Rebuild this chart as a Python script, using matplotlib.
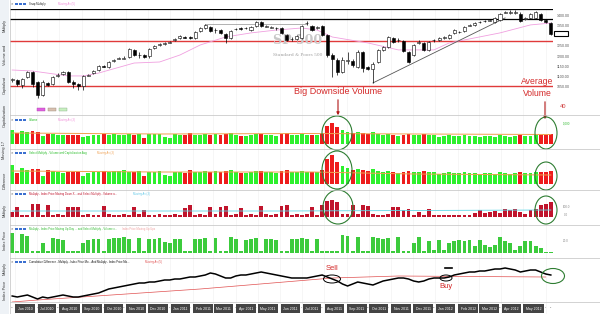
import matplotlib
matplotlib.use('Agg')
import matplotlib.pyplot as plt
from matplotlib.patches import Ellipse, Rectangle, FancyArrowPatch
import pandas as pd

plt.rcParams['font.family'] = ['Liberation Sans', 'DejaVu Sans']

# weekly S&P 500 bars, late May 2010 to mid 2012
weeks = pd.date_range('2010-05-28', periods=107, freq='W-FRI')

opens = [1083, 1083, 1059, 1098, 1122, 1073, 1010, 1069, 1064, 1105,
         1112, 1122, 1073, 1064, 1054, 1105, 1117, 1132, 1151, 1147,
         1176, 1188, 1188, 1195, 1230, 1203, 1205, 1200, 1239, 1256,
         1259, 1266, 1278, 1288, 1293, 1293, 1288, 1322, 1337, 1342,
         1325, 1327, 1308, 1288, 1330, 1337, 1335, 1327, 1347, 1366,
         1344, 1339, 1335, 1337, 1303, 1281, 1283, 1288, 1359, 1347,
         1339, 1347, 1303, 1205, 1181, 1122, 1178, 1176, 1147, 1220,
         1147, 1137, 1171, 1230, 1244, 1288, 1276, 1273, 1220, 1205,
         1266, 1264, 1230, 1276, 1278, 1288, 1288, 1313, 1315, 1322,
         1349, 1352, 1364, 1369, 1373, 1366, 1376, 1412, 1412, 1412,
         1405, 1383, 1386, 1386, 1405, 1376, 1361]
closes = [1086, 1064, 1088, 1122, 1064, 1010, 1073, 1059, 1098, 1108,
          1122, 1073, 1064, 1054, 1103, 1108, 1127, 1151, 1149, 1171,
          1181, 1191, 1191, 1234, 1205, 1205, 1195, 1234, 1249, 1259,
          1264, 1269, 1283, 1298, 1290, 1288, 1317, 1337, 1352, 1322,
          1327, 1313, 1288, 1322, 1332, 1332, 1337, 1342, 1366, 1347,
          1347, 1342, 1337, 1313, 1278, 1283, 1298, 1347, 1361, 1327,
          1342, 1303, 1205, 1186, 1122, 1181, 1181, 1156, 1220, 1142,
          1137, 1161, 1230, 1244, 1293, 1269, 1278, 1225, 1171, 1254,
          1269, 1230, 1269, 1278, 1288, 1293, 1303, 1327, 1317, 1342,
          1352, 1361, 1366, 1371, 1376, 1386, 1405, 1415, 1415, 1415,
          1371, 1386, 1405, 1415, 1376, 1366, 1308]
highs = [1093, 1088, 1093, 1127, 1127, 1078, 1083, 1073, 1103, 1117,
         1127, 1127, 1083, 1069, 1108, 1112, 1132, 1156, 1156, 1176,
         1186, 1195, 1200, 1239, 1234, 1220, 1210, 1239, 1254, 1264,
         1269, 1273, 1288, 1303, 1298, 1298, 1322, 1342, 1356, 1347,
         1337, 1332, 1313, 1327, 1337, 1342, 1342, 1347, 1371, 1371,
         1352, 1347, 1342, 1342, 1308, 1293, 1303, 1352, 1371, 1352,
         1347, 1352, 1308, 1215, 1191, 1195, 1220, 1186, 1230, 1225,
         1151, 1171, 1234, 1249, 1298, 1293, 1288, 1278, 1225, 1259,
         1278, 1269, 1273, 1283, 1293, 1298, 1308, 1332, 1322, 1347,
         1356, 1366, 1371, 1376, 1381, 1391, 1410, 1420, 1425, 1425,
         1415, 1391, 1410, 1420, 1410, 1381, 1366]
lows = [1073, 1054, 1044, 1093, 1049, 995, 1005, 1054, 1059, 1098,
        1108, 1069, 1044, 1034, 1034, 1103, 1112, 1127, 1147, 1142,
        1171, 1186, 1186, 1191, 1200, 1191, 1191, 1191, 1234, 1249,
        1254, 1264, 1273, 1283, 1288, 1283, 1283, 1317, 1332, 1317,
        1313, 1308, 1264, 1283, 1327, 1327, 1332, 1322, 1342, 1342,
        1342, 1337, 1327, 1308, 1273, 1273, 1278, 1283, 1352, 1322,
        1332, 1298, 1195, 1098, 1108, 1117, 1161, 1147, 1142, 1122,
        1132, 1069, 1166, 1225, 1239, 1264, 1269, 1220, 1166, 1200,
        1259, 1225, 1225, 1269, 1273, 1283, 1283, 1308, 1313, 1317,
        1347, 1347, 1361, 1366, 1371, 1361, 1371, 1410, 1405, 1405,
        1366, 1376, 1381, 1381, 1371, 1361, 1303]

# 20 week moving average of the index (read at a few weeks)
ma_week = [0, 4, 11, 14, 17, 24, 29, 33, 37, 42, 47, 52, 57, 60, 63, 70, 76, 83, 86, 96, 102, 106]
ma_price = [1132, 1127, 1103, 1103, 1117, 1166, 1171, 1205, 1254, 1293, 1313, 1327,
            1337, 1327, 1293, 1264, 1230, 1230, 1264, 1313, 1352, 1361]

trend_week = [71, 97]
trend_price = [1069, 1386]
resist_week = [38, 58]
resist_price = [1354, 1354]
hlines_black = [1430, 1381]
hlines_red = [1273, 1054]

# volume (billions of shares)
volume = [14, 11, 13, 12, 13, 12, 8, 10, 10, 9, 9, 9, 9, 9, 7, 8, 9, 9, 10, 9,
          10, 9, 9, 10, 9, 10, 6, 10, 10, 10, 7, 6, 10, 9, 9, 11, 9,
          9, 10, 9, 10, 9, 10, 11, 9, 8, 8, 9, 10, 10, 9, 9, 8, 10, 11, 9, 9, 10, 9, 9, 9, 11,
          18, 21, 17, 14, 12, 11, 12, 11,
          10, 12, 10, 9, 10, 9, 8, 9, 10, 9, 9, 10, 9, 9, 7, 8, 9, 8, 8, 9, 8, 8, 7, 8, 8, 7,
          9, 8, 7, 8, 9, 8, 8, 9, 9, 9, 10]
vol_ma_week = [0, 29, 59, 79, 106]
vol_ma = [11, 10, 10.5, 10, 9.5]

volcap = [19, 11, 16, 14, 15, 15, 8, 14, 13, 12, 11, 12, 12, 12, 8, 11, 12, 12, 13, 12,
          13, 13, 14, 12, 12, 13, 8, 12, 12, 13, 9, 8, 12, 12, 11, 14, 12,
          12, 13, 12, 13, 12, 13, 14, 12, 11, 11, 12, 13, 13, 12, 12, 11, 13, 14, 12, 12, 13, 12, 12, 12, 14,
          25, 29, 22, 18, 16, 14, 15, 14,
          13, 15, 13, 12, 13, 12, 11, 12, 13, 12, 12, 13, 12, 12, 10, 11, 12, 11, 11, 12, 11, 11, 10, 11, 11, 10,
          12, 11, 10, 11, 12, 11, 11, 12, 12, 12, 13]
volcap_ma_week = [0, 29, 59, 79, 106]
volcap_ma = [13, 12, 12, 10, 9]

down_vol = [5, 10, 2.5, 2.5, 13, 13, 2.5, 12, 2.5, 3, 2.5, 10, 10, 10, 2.5, 3, 2.5, 2.5, 11, 3,
            2.5, 2.5, 3, 2.5, 10, 3, 7, 2.5, 2.5, 3, 2.5, 2.5, 3, 2.5, 9, 12, 2.5, 3, 2.5, 10,
            3, 10, 11, 2.5, 3, 9, 2.5, 3, 2.5, 11, 3, 2.5, 3, 11, 12, 2.5, 3, 2.5, 3, 10,
            2.5, 12, 16, 17, 15, 3, 3, 12, 3, 12, 11, 3, 2.5, 2.5, 3, 10,
            10, 7, 8, 2.5, 5, 2.5, 8, 2.5, 2.5, 2.5, 2.5, 2.5, 2.5, 2.5, 2.5, 4,
            7, 4, 5, 6, 4, 8, 7, 8, 5, 3, 7, 8, 12, 13, 15]
down_ma_week = [0, 53, 106]
down_ma = [6, 6, 7]

up_vol = [20, 2, 19, 17, 2, 2, 10, 2, 15, 14, 13, 2, 2, 2, 10, 13, 14, 14, 2, 14,
          15, 15, 16, 14, 2, 15, 2, 14, 14, 15, 11, 10, 14, 14, 2, 2, 14, 14, 15, 2,
          15, 2, 2, 16, 14, 2, 13, 14, 15, 2, 14, 14, 13, 2, 2, 14, 14, 15, 14, 2,
          14, 2, 2, 2, 2, 18, 17, 2, 16, 2, 2, 16, 15, 14, 15, 2,
          16, 2, 2, 10, 16, 2, 12, 3, 13, 3, 10, 12, 13, 12, 13, 7, 13, 8, 6, 8,
          16, 12, 10, 3, 7, 12, 12, 7, 5, 1, 1]

cum_diff = [40, 30, 40, 50, 30, 10, 30, 20, 30, 40, 50, 40, 30, 30, 40, 50, 60, 70, 90, 110,
            120, 130, 140, 150, 160, 170, 170, 180, 180, 190, 200, 200, 210, 210, 220, 230, 230, 240, 250, 270,
            260, 240, 220, 220, 240, 250, 250, 260, 270, 280, 270, 260, 250, 240, 230, 220, 220, 220, 220, 230,
            240, 250, 230, 210, 190, 160, 140, 160, 180, 170, 160, 150, 170, 190, 200, 210, 220, 220, 210, 190,
            180, 190, 210, 220, 220, 220, 230, 250, 260, 270, 280, 280, 290, 290, 300, 310, 310, 320, 310, 300,
            280, 290, 300, 300, 280, 260, 250]
cum_ma_week = [0, 5, 37, 63, 76, 105]
cum_ma = [-20, 0, 110, 220, 240, 230]

price_ticks = [1050, 1100, 1150, 1200, 1250, 1300, 1350, 1400]

GREEN = '#2df02d'
RED = '#ee1c1c'
DARKRED = '#c0142c'
GREEN2 = '#3ccb3c'

fig = plt.figure(figsize=(6, 3.14), dpi=100)
fig.patch.set_facecolor('white')


def panel(top, bottom, left=10, right=553):
    a = fig.add_axes([left / 600, 1 - bottom / 314, (right - left) / 600, (bottom - top) / 314])
    a.set_xlim(weeks[0] - pd.Timedelta(days=3), weeks[-1] + pd.Timedelta(days=3))
    a.set_xticks([])
    a.set_yticks([])
    for s in a.spines.values():
        s.set_visible(False)
    for d in pd.date_range('2010-06-01', '2012-06-01', freq='MS'):
        a.axvline(d, color='#efefef', lw=0.4, zorder=0)
    return a


up = [c >= o for o, c in zip(opens, closes)]
colors = [GREEN if u else RED for u in up]

# price panel
ax = panel(9, 115)
ax.set_ylim(912.4, 1429.6)
for y in hlines_black:
    ax.axhline(y, color='black', lw=0.9, zorder=1)
for y in hlines_red:
    ax.axhline(y, color='#e03a3a', lw=1.0, zorder=1)
ax.plot([weeks[i] for i in ma_week], ma_price, color='#f0a0e0', lw=0.6, zorder=2)
ax.plot([weeks[i] for i in trend_week], trend_price, color='#555555', lw=0.6, zorder=2)
ax.plot([weeks[i] for i in resist_week], resist_price, color='#777777', lw=0.4, zorder=2)
ax.vlines(weeks, lows, highs, color='black', lw=0.5, zorder=3)
body_lo = [min(o, c) for o, c in zip(opens, closes)]
body_h = [max(abs(c - o), 0.8) for o, c in zip(opens, closes)]
ax.bar(weeks, body_h, bottom=body_lo, width=4.2,
       color=['white' if u else 'black' for u in up], edgecolor='black', lw=0.4, zorder=4)
ax.text(0.53, 0.70, 'SP 500', transform=ax.transAxes, ha='center', va='center',
        fontsize=9, color='#c8c8c8', fontweight='bold', family='DejaVu Serif', zorder=1)
ax.text(0.53, 0.57, 'Standard & Poors 500', transform=ax.transAxes, ha='center', va='center',
        fontsize=3.2, color='#a0a0a0', family='DejaVu Serif', zorder=1)
ax.yaxis.tick_right()
ax.set_yticks(price_ticks)
ax.set_yticklabels(['%.2f' % t for t in price_ticks])
ax.tick_params(axis='y', length=0, labelsize=2.6, labelcolor='#555555', pad=3)

# volume panel
ax2 = panel(115, 149)
ax2.set_ylim(-5, 29)
ax2.bar(weeks, volume, width=5.3, color=colors, zorder=2)
ax2.plot([weeks[i] for i in vol_ma_week], vol_ma, color='#f0a050', lw=0.7, zorder=3)

# volume and capitalization panel
ax3 = panel(149, 190)
ax3.set_ylim(-6, 35)
ax3.bar(weeks, volcap, width=5.3, color=colors, zorder=2)
ax3.plot([weeks[i] for i in volcap_ma_week], volcap_ma, color='#f0a050', lw=0.7, zorder=3)

# down volume panel
ax4 = panel(190, 225)
ax4.set_ylim(-8, 27)
ax4.bar(weeks, down_vol, width=5.3, color=DARKRED, zorder=2)
ax4.plot([weeks[i] for i in down_ma_week], down_ma, color='#60d8e8', lw=0.6, zorder=3)

# up volume panel
ax5 = panel(225, 258)
ax5.set_ylim(-5, 28)
ax5.bar(weeks, up_vol, width=5.3, color=GREEN2, zorder=2)

# cumulative difference panel
ax6 = panel(258, 302)
ax6.set_ylim(-20, 420)
ax6.plot(weeks, cum_diff, color='black', lw=1.1, zorder=3)
ax6.plot([weeks[i] for i in cum_ma_week], cum_ma, color='#e05050', lw=0.5, zorder=2)

# date axis
axd = panel(302, 314)
axd.set_ylim(0, 1)
for w in weeks:
    axd.text(w, 0.5, str(w.day), ha='center', va='center', fontsize=1.6, color='#666666')
for m in pd.date_range('2010-06-01', '2012-05-01', freq='MS') + pd.Timedelta(days=14):
    axd.text(m, 0.45, m.strftime('%b %Y'), ha='center', va='center', fontsize=2.5, color='white',
             bbox=dict(boxstyle='square,pad=0.7', fc='#444444', ec='none'), zorder=5)

# overlay in pixel space for annotations and chrome
ov = fig.add_axes([0, 0, 1, 1])
ov.set_xlim(0, 600)
ov.set_ylim(314, 0)
ov.axis('off')
ov.patch.set_alpha(0)

for y in [115, 149, 190, 225, 258, 302]:
    ov.plot([10, 600], [y, y], color='#c0c0c0', lw=0.5)
ov.plot([10, 10], [0, 314], color='#c0c0c0', lw=0.5)
ov.add_patch(Rectangle((0, 0), 9, 314, fc='#eef2f6', ec='none'))

left_tabs = [(25, 'Multiply'), (55, 'Volume and'), (85, 'Capitalizat'),
             (115, 'Capitalization'), (150, 'Moving 17'), (180, 'Difference'),
             (210, 'Multiply'), (240, 'Index Price'), (268, 'Multiply'),
             (290, 'Index Price')]
for y, t in left_tabs:
    ov.text(4.5, y, t, rotation=90, ha='center', va='center', fontsize=2.8, color='#333333')

# panel headers: (y, main text, colour, x of second text, second text, colour)
headers = [
    (4, 'Snap Multiply', '#222222', 58, 'Moving Av (5)', '#f08ad8'),
    (120, 'Volume', '#22bb22', 58, 'Moving Av (3)', '#f08ad8'),
    (153, 'Select Multiply - Volume and Capitalization Avg', '#22bb22', 97, 'Moving Av (3)', '#f0a050'),
    (194, 'Multiply - Index Price Moving Down X... and Select Multiply - Volume a...', '#c0142c',
     133, 'Moving Av (3)', '#60c8e8'),
    (229, 'Multiply - Index Price Moving Up Day ... and Select Multiply - Volume x...', '#33bb33',
     122, 'Index Price Moving Up Ups', '#f0a0a0'),
    (262, 'Cumulative Difference - Multiply - Index Price Mo... And Multiply - Index Price Mo...', '#111111',
     145, 'Moving Av (5)', '#e05050'),
]
for y, t1, c1, x2, t2, c2 in headers:
    ov.text(11, y, '\u2715', fontsize=2.2, color='#555555', va='center')
    for k in range(3):
        ov.add_patch(Rectangle((15 + k * 4, y - 1.2), 2.6, 2.4, fc='#3a6fd0', ec='none'))
    ov.text(29, y, t1, fontsize=2.0, color=c1, va='center')
    ov.text(x2, y, t2, fontsize=2.0, color=c2, va='center')

ov.add_patch(Rectangle((37, 108), 8, 3, fc='#e060e0', ec='#aa44aa', lw=0.3))
ov.add_patch(Rectangle((48, 108), 8, 3, fc='#d8c0b0', ec='#998877', lw=0.3))
ov.add_patch(Rectangle((59, 108), 8, 3, fc='#c8f0c0', ec='#88aa88', lw=0.3))
ov.add_patch(Rectangle((554, 31), 14, 5, fc='white', ec='black', lw=0.8))

for x, y, t, c in [(566, 124, '1,000', '#33bb33'), (566, 207, '100.0', '#888888'),
                   (566, 215, '0.0', '#888888'), (566, 241, '20.0', '#888888')]:
    ov.text(x, y, t, fontsize=2.2, color=c, ha='center', va='center')

# annotations
ov.text(338, 91, 'Big Downside Volume', color='#d42a2a', fontsize=6.5, ha='center', va='center')
ov.add_patch(FancyArrowPatch((338, 97), (338, 118), arrowstyle='-|>', mutation_scale=4,
                             color='#b01818', lw=0.8))
ov.text(537, 81, 'Average', color='#d42a2a', fontsize=6.2, ha='center', va='center')
ov.text(537, 93, 'Volume', color='#d42a2a', fontsize=6.2, ha='center', va='center')
ov.add_patch(FancyArrowPatch((545, 99), (545, 122), arrowstyle='-|>', mutation_scale=4,
                             color='#b01818', lw=0.8))
ov.text(563, 107, '40', color='#d04040', fontsize=4.2, ha='center', va='center')

for cx, cy, w, h in [(337, 133, 30, 34), (337, 170, 30, 38), (338, 207, 30, 34),
                     (546, 133, 22, 32), (546, 176, 22, 28), (546, 210, 22, 28),
                     (553, 276, 23, 15)]:
    ov.add_patch(Ellipse((cx, cy), w, h, fill=False, ec='#2e7d32', lw=0.8))

ov.text(332, 268, 'Sell', color='#d42a2a', fontsize=5.5, ha='center', va='center')
ov.add_patch(Ellipse((332, 279), 17, 8, fill=False, ec='black', lw=0.7))
ov.text(446, 287, 'Buy', color='#d42a2a', fontsize=5.5, ha='center', va='center')
ov.add_patch(Ellipse((446, 278), 12, 6, fill=False, ec='black', lw=0.7))
ov.plot([445, 452], [268, 268], color='black', lw=1.2)

fig.savefig('out.png', dpi=100, facecolor='white')
